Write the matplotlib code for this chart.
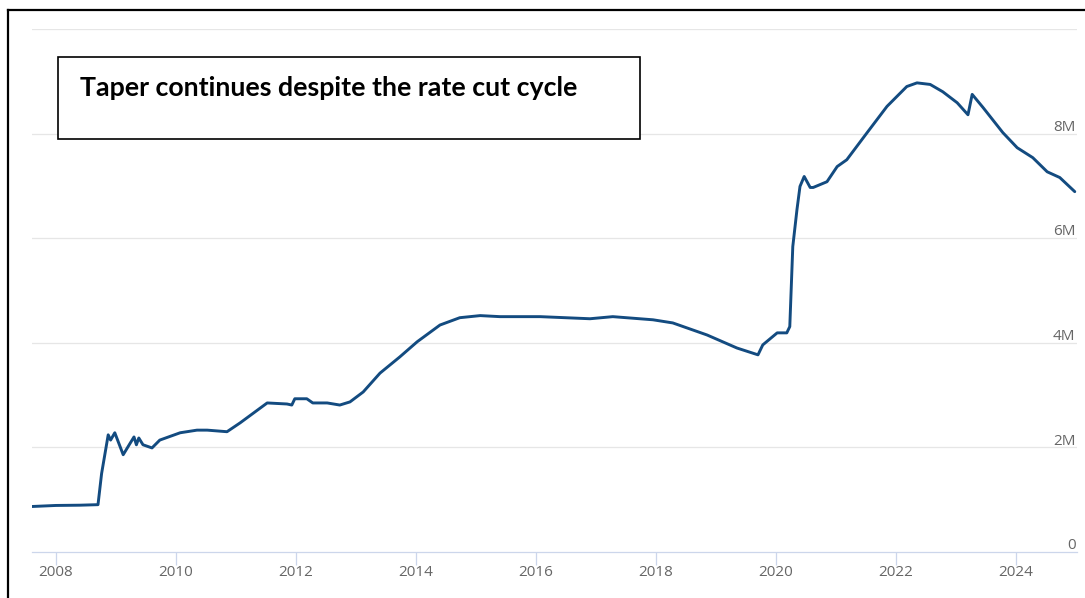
import matplotlib
matplotlib.use("Agg")
import matplotlib.pyplot as plt
from matplotlib.lines import Line2D
from matplotlib.patches import Rectangle

# Federal Reserve total assets (millions of USD), sampled along the weekly series
years = [2007.60, 2008.00, 2008.40, 2008.70, 2008.76, 2008.87, 2008.91, 2008.98,
         2009.12, 2009.22, 2009.30, 2009.34, 2009.38, 2009.45, 2009.60, 2009.73,
         2010.07, 2010.35, 2010.52, 2010.85, 2011.07, 2011.52, 2011.85, 2011.93,
         2011.98, 2012.18, 2012.28, 2012.52, 2012.73, 2012.90, 2013.12, 2013.40,
         2013.73, 2014.02, 2014.40, 2014.73, 2015.07, 2015.40, 2016.07, 2016.90,
         2017.28, 2017.95, 2018.28, 2018.85, 2019.35, 2019.70, 2019.78, 2020.02,
         2020.18, 2020.23, 2020.28, 2020.35, 2020.40, 2020.47, 2020.57, 2020.62,
         2020.85, 2021.02, 2021.18, 2021.52, 2021.85, 2022.18, 2022.35, 2022.57,
         2022.78, 2023.02, 2023.20, 2023.27, 2023.45, 2023.78, 2024.02, 2024.28,
         2024.52, 2024.73, 2024.98]
assets = [870000, 890000, 895000, 905000, 1500000, 2240000, 2140000, 2280000,
          1860000, 2050000, 2200000, 2050000, 2180000, 2050000, 1990000, 2140000,
          2280000, 2330000, 2330000, 2300000, 2470000, 2850000, 2830000, 2810000,
          2930000, 2930000, 2850000, 2850000, 2810000, 2870000, 3060000, 3420000,
          3730000, 4020000, 4340000, 4480000, 4520000, 4500000, 4500000, 4460000,
          4500000, 4440000, 4380000, 4150000, 3900000, 3770000, 3960000, 4190000,
          4190000, 4310000, 5840000, 6550000, 6990000, 7180000, 6970000, 6970000,
          7080000, 7370000, 7500000, 8020000, 8520000, 8900000, 8970000, 8940000,
          8800000, 8590000, 8360000, 8750000, 8500000, 8020000, 7730000, 7540000,
          7270000, 7160000, 6890000]

x_ticks = [2008, 2010, 2012, 2014, 2016, 2018, 2020, 2022, 2024]
y_ticks = [0, 2000000, 4000000, 6000000, 8000000, 10000000]
y_labels = ["0", "2M", "4M", "6M", "8M", ""]
title = "Taper continues despite the rate cut cycle"

W, H = 1085, 598
fig = plt.figure(figsize=(W / 100, H / 100), dpi=100)
ax = fig.add_axes([32 / W, (H - 552) / H, 1045 / W, 523 / H])

ax.plot(years, assets, color="#134b80", lw=2.1, solid_joinstyle="round",
        solid_capstyle="round", zorder=3)

ax.set_xlim(2007.6, 2025.017)
ax.set_ylim(0, 10000000)

# horizontal grid
for v in y_ticks[1:]:
    ax.axhline(v, color="#e6e6e6", lw=0.9, zorder=1)
ax.set_yticks([])

for s in ("top", "right", "left"):
    ax.spines[s].set_visible(False)
ax.spines["bottom"].set_color("#ccd6eb")
ax.spines["bottom"].set_linewidth(0.9)

ax.set_xticks(x_ticks)
ax.set_xticklabels([str(y) for y in x_ticks])
ax.tick_params(axis="x", direction="out", length=9, width=0.9, color="#ccd6eb",
               labelcolor="#666666", labelsize=11, pad=0.5)
for lbl in ax.get_xticklabels():
    lbl.set_fontfamily("Open Sans")

# y labels sit on the right, just above their grid lines
for v, lab in zip(y_ticks, y_labels):
    if lab:
        ax.annotate(lab, xy=(1.0, v), xycoords=("axes fraction", "data"),
                    xytext=(-1, 2), textcoords="offset points",
                    ha="right", va="baseline", color="#666666", fontsize=11,
                    family="Open Sans")

# outer frame lines
fig.add_artist(Line2D([8 / W, 8 / W], [0, 1 - 10 / H], color="black", lw=1.6,
                      transform=fig.transFigure))
fig.add_artist(Line2D([8 / W, 1], [1 - 10 / H, 1 - 10 / H], color="black", lw=1.6,
                      transform=fig.transFigure))

# title box
fig.add_artist(Rectangle((58 / W, 1 - 139 / H), (640 - 58) / W, (139 - 57) / H,
                         transform=fig.transFigure, facecolor="white",
                         edgecolor="black", lw=1.2, zorder=5))
fig.text(80 / W, 1 - 88 / H, title, ha="left", va="center", fontsize=19.3,
         fontweight="bold", family="Lato", color="black", zorder=6)

fig.savefig("out.png", dpi=100)
